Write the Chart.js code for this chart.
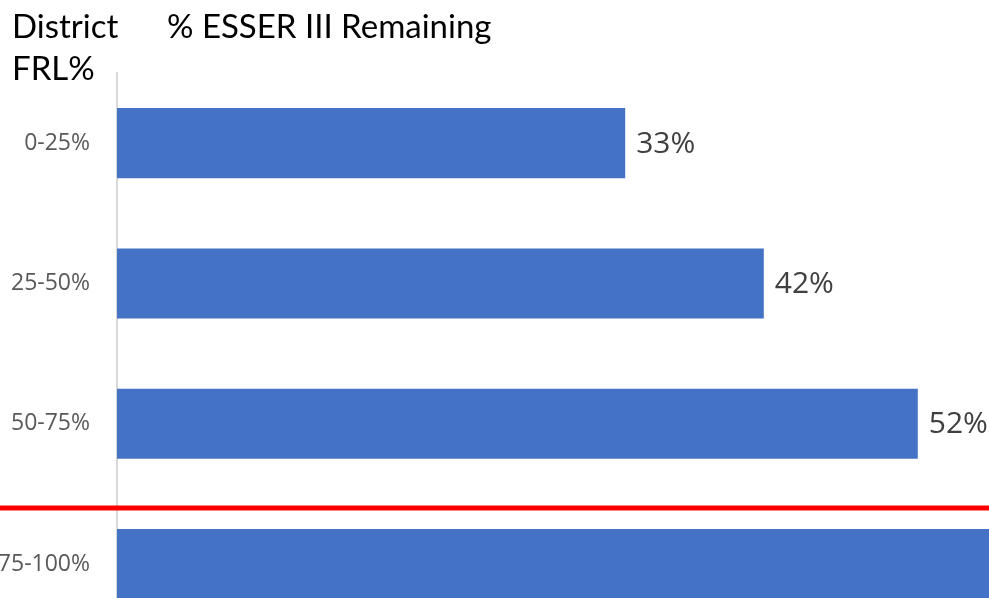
<!DOCTYPE html>
<html>
<head>
<meta charset="utf-8">
<script src="https://cdn.jsdelivr.net/npm/chart.js@4.4.1/dist/chart.umd.min.js"></script>
<style>
    html, body { margin: 0; padding: 0; background: #fff; }
    #frame { position: relative; width: 989px; height: 598px; overflow: hidden; }
    #chart { position: absolute; left: -40px; top: 0; }
    .head { position: absolute; font-family: Lato, sans-serif; font-size: 33px; color: #000; line-height: 1; }
</style>
</head>
<body>
<div id="frame">
    <canvas id="chart" width="1160" height="675"></canvas>
    <div class="head" style="left:12px; top:9px;">District</div>
    <div class="head" style="left:12px; top:51px;">FRL%</div>
    <div class="head" style="left:167px; top:9px;">% ESSER III Remaining</div>
</div>
<script>
const categories = ['0-25%', '25-50%', '50-75%', '75-100%'];
const remaining = [33, 42, 52, 61];
const cutoffPosition = 2.6; // red line sits between 50-75% and 75-100%

// value labels just right of each bar end
const barLabels = {
    id: 'barLabels',
    afterDatasetsDraw(chart) {
        const ctx = chart.ctx;
        const meta = chart.getDatasetMeta(0);
        ctx.save();
        ctx.font = '30px "Open Sans"';
        ctx.fillStyle = '#404040';
        ctx.textAlign = 'left';
        ctx.textBaseline = 'middle';
        meta.data.forEach((bar, i) => {
            ctx.fillText(remaining[i] + '%', bar.x + 11, bar.y + 1);
        });
        ctx.restore();
    }
};

// red divider across the whole width
const cutoffLine = {
    id: 'cutoffLine',
    afterDraw(chart) {
        const ctx = chart.ctx;
        const y = chart.scales.y.getPixelForValue(cutoffPosition);
        ctx.save();
        ctx.strokeStyle = '#ff0000';
        ctx.lineWidth = 5;
        ctx.beginPath();
        ctx.moveTo(0, y);
        ctx.lineTo(chart.width, y);
        ctx.stroke();
        ctx.restore();
    }
};

window.onload = () => {
    const ctx = document.getElementById('chart').getContext('2d');
    new Chart(ctx, {
        type: 'bar',
        data: {
            labels: categories,
            datasets: [{
                data: remaining,
                backgroundColor: '#4472c4',
                barPercentage: 0.5,
                categoryPercentage: 1
            }]
        },
        options: {
            indexAxis: 'y',
            responsive: false,
            animation: false,
            layout: { padding: { top: 73, bottom: 0, right: 2, left: 0 } },
            plugins: {
                legend: { display: false },
                tooltip: { enabled: false }
            },
            scales: {
                x: {
                    display: false,
                    min: 0,
                    max: 65
                },
                y: {
                    grid: { display: false, drawTicks: false },
                    border: { display: true, color: '#d9d9d9', width: 2 },
                    ticks: {
                        color: '#595959',
                        padding: 27,
                        font: { family: 'Open Sans', size: 23 }
                    },
                    afterFit: (scale) => { scale.width = 157; }
                }
            }
        },
        plugins: [barLabels, cutoffLine]
    });
};
</script>
</body>
</html>
